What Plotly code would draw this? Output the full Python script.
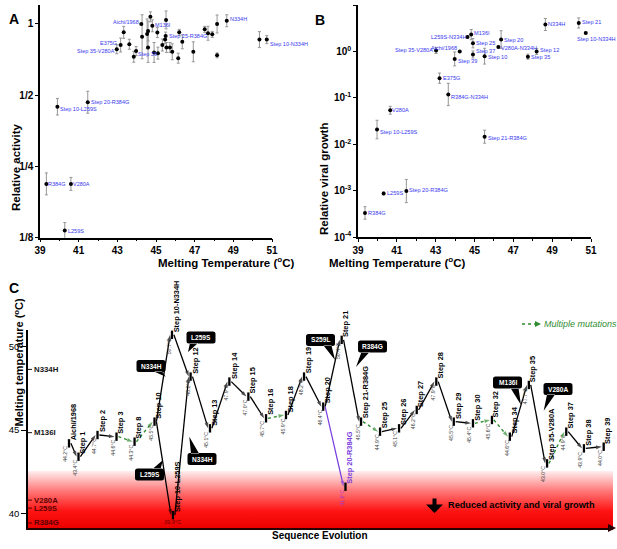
import math
import plotly.graph_objects as go

W, H = 617, 549
FONT = "Liberation Sans, Arial, Helvetica, sans-serif"
LBL_BLUE = "rgb(55,55,240)"
ERR_GRAY = "rgb(150,150,150)"
GREEN = "rgb(50,140,50)"
PURPLE = "rgb(120,60,220)"

# ---------------- Panel A: relative activity vs Tm ----------------
a_tm = [39.90, 41.47, 42.97, 43.17, 43.33, 43.62, 43.85, 43.97, 44.24, 44.28,
        44.54, 44.59, 44.59, 44.71, 44.81, 44.90, 45.07, 45.10, 45.33, 45.47,
        45.50, 45.52, 45.54, 45.72, 45.84, 46.15, 46.20, 46.36, 46.93, 47.52,
        47.69, 47.91, 48.16, 48.16, 48.66, 50.35, 50.73, 39.33, 40.60, 40.28]
a_activity = [0.447, 0.467, 0.782, 0.815, 0.922, 0.821, 0.727, 0.768, 1.000, 0.883,
              0.908, 0.934, 0.796, 1.072, 0.983, 0.758, 0.920, 0.753, 0.815, 0.859,
              0.889, 1.040, 0.796, 0.796, 0.763, 0.717, 0.922, 0.841, 0.763, 0.949,
              0.914, 0.904, 1.000, 0.737, 1.032, 0.859, 0.859, 0.211, 0.211, 0.134]
# half-width of error bars in log2 units
a_err_log2 = [0.116, 0.154, 0.063, 0.098, 0.084, 0.070, 0.077, 0.063, 0.0, 0.309,
              0.210, 0.140, 0.210, 0.070, 0.084, 0.140, 0.070, 0.084, 0.084, 0.056,
              0.056, 0.126, 0.070, 0.070, 0.112, 0.070, 0.042, 0.098, 0.140, 0.042,
              0.098, 0.042, 0.126, 0.035, 0.084, 0.112, 0.056, 0.154, 0.091, 0.112]
a_names = ["Step 10-L259S", "Step 20-R384G", "Step 35-V280A", "E375G", "", "", "", "Step 39", "Aichi/1968", "",
           "", "", "", "", "M136I", "", "", "", "", "",
           "Step 25-R384G", "", "", "", "", "", "", "", "", "",
           "", "", "", "", "N334H", "", "Step 10-N334H", "R384G", "V280A", "L259S"]
a_ytickvals = [0.125, 0.25, 0.5, 1.0]
a_yticktext = ["1/8", "1/4", "1/2", "1"]

# ---------------- Panel B: relative viral growth vs Tm ----------------
b_tm = [43.02, 44.24, 44.64, 44.83, 44.92, 44.92, 43.98, 45.52, 46.37, 46.23,
        48.20, 47.75, 48.65, 50.37, 50.73, 43.20, 43.65, 40.66, 39.98, 45.52,
        40.32, 41.49, 39.36]
b_growth = [1.05, 1.00, 2.04, 2.30, 1.50, 0.86, 0.69, 0.79, 1.80, 1.24,
            1.00, 0.77, 3.80, 4.10, 2.50, 0.265, 0.118, 0.054, 0.0207, 0.0145,
            0.00087, 0.00098, 0.00033]
# half-width of error bars in decades
b_err_dec = [0.065, 0.0, 0.02, 0.11, 0.10, 0.075, 0.15, 0.17, 0.19, 0.02,
             0.065, 0.055, 0.13, 0.11, 0.02, 0.11, 0.24, 0.085, 0.20, 0.14,
             0.03, 0.25, 0.135]
b_names = ["Step 35-V280A", "Aichi/1968", "L259S-N334H", "M136I", "Step 25", "Step 37", "Step 39", "Step 10",
           "Step 20", "V280A-N334H", "Step 12", "Step 35", "N334H", "Step 21", "Step 10-N334H", "E375G",
           "R384G-N334H", "V280A", "Step 10-L259S", "Step 21-R384G", "L259S", "Step 20-R384G", "R384G"]
b_ytickvals = [1e-4, 1e-3, 1e-2, 1e-1, 1e0, 1e1]
b_yticktext = ["10<sup>-4</sup>", "10<sup>-3</sup>", "10<sup>-2</sup>", "10<sup>-1</sup>", "10<sup>0</sup>", "10<sup>1</sup>"]

# ---------------- Panel C: evolutionary trajectory ----------------
c_names = ["Aichi/1968", "Step 1", "Step 2", "Step 3", "Step 8", "Step 10", "Step 10-N334H", "Step 10-L259S",
           "Step 12", "Step 13", "Step 14", "Step 15", "Step 16", "Step 18", "Step 19", "Step 20", "Step 21",
           "Step 20-R384G", "Step 21-R384G", "Step 25", "Step 26", "Step 27", "Step 28", "Step 29", "Step 30",
           "Step 32", "Step 34", "Step 35", "Step 35-V280A", "Step 37", "Step 38", "Step 39"]
c_seq = [0.0, 0.5, 1.5, 2.5, 3.45, 4.5, 5.42, 5.47,
         6.4, 7.42, 8.44, 9.44, 10.37, 11.42, 12.37, 13.38, 14.35,
         14.55, 15.37, 16.37, 17.37, 18.3, 19.33, 20.25, 21.26,
         22.26, 23.2, 24.2, 25.16, 26.17, 27.1, 28.14]
c_tm = [44.2, 43.4, 44.7, 44.6, 44.3, 45.5, 50.7, 39.9,
        48.2, 45.1, 47.9, 47.0, 45.7, 45.9, 48.2, 46.4, 50.4,
        41.6, 45.5, 44.9, 45.1, 46.2, 47.9, 45.5, 45.4,
        45.6, 44.6, 47.7, 43.0, 44.9, 43.9, 44.0]
c_edges = [("Aichi/1968", "Step 1", "single"), ("Step 1", "Step 2", "single"), ("Step 2", "Step 3", "single"),
           ("Step 3", "Step 8", "multi"), ("Step 8", "Step 10", "multi"),
           ("Step 10", "Step 10-N334H", "single"), ("Step 10", "Step 10-L259S", "single"),
           ("Step 10-N334H", "Step 12", "single"), ("Step 10-L259S", "Step 12", "single"),
           ("Step 12", "Step 13", "single"), ("Step 13", "Step 14", "single"), ("Step 14", "Step 15", "single"),
           ("Step 15", "Step 16", "single"), ("Step 16", "Step 18", "multi"), ("Step 18", "Step 19", "single"),
           ("Step 19", "Step 20", "single"), ("Step 20", "Step 21", "single"), ("Step 20", "Step 20-R384G", "lethal"),
           ("Step 21", "Step 21-R384G", "single"), ("Step 21-R384G", "Step 25", "multi"),
           ("Step 25", "Step 26", "single"), ("Step 26", "Step 27", "single"), ("Step 27", "Step 28", "single"),
           ("Step 28", "Step 29", "single"), ("Step 29", "Step 30", "single"), ("Step 30", "Step 32", "multi"),
           ("Step 32", "Step 34", "multi"), ("Step 34", "Step 35", "single"), ("Step 35", "Step 35-V280A", "single"),
           ("Step 35-V280A", "Step 37", "multi"), ("Step 37", "Step 38", "single"), ("Step 38", "Step 39", "single")]
c_axis_mut = ["N334H", "M136I", "V280A", "L259S", "R384G"]
c_axis_mut_tm = [48.63, 44.84, 40.8, 40.32, 39.43]
c_callouts = ["N334H", "L259S", "L259S", "N334H", "S259L", "R384G", "M136I", "V280A"]
c_yticks = [40, 45, 50]

# ---------------- layout geometry (pixels) ----------------
def px(x):
    return x / W

def py(y):
    return 1 - y / H

A_XD = [px(40), px(272)]
A_YD = [py(237.7), py(5)]
B_XD = [px(358), px(591)]
B_YD = [py(237), py(5)]
C_XD = [px(28), px(613)]
C_YD = [py(528), py(330)]
C_XR = [-2.158, 28.63]
C_YR = [39.13, 50.99]

fig = go.Figure()

# Panel A points
fig.add_trace(go.Scatter(
    x=a_tm, y=a_activity, mode="markers", xaxis="x", yaxis="y",
    marker=dict(color="black", size=4),
    error_y=dict(type="data", symmetric=False,
                 array=[v * (2 ** e - 1) for v, e in zip(a_activity, a_err_log2)],
                 arrayminus=[v * (1 - 2 ** -e) for v, e in zip(a_activity, a_err_log2)],
                 color=ERR_GRAY, thickness=1, width=1.5),
    hoverinfo="skip"))

# Panel B points
fig.add_trace(go.Scatter(
    x=b_tm, y=b_growth, mode="markers", xaxis="x2", yaxis="y2",
    marker=dict(color="black", size=4),
    error_y=dict(type="data", symmetric=False,
                 array=[v * (10 ** e - 1) for v, e in zip(b_growth, b_err_dec)],
                 arrayminus=[v * (1 - 10 ** -e) for v, e in zip(b_growth, b_err_dec)],
                 color=ERR_GRAY, thickness=1, width=1.5),
    hoverinfo="skip"))

# Panel C red gradient zone
fig.add_trace(go.Scatter(
    x=[C_XR[0], C_XR[1], C_XR[1], C_XR[0]], y=[C_YR[0], C_YR[0], 42.54, 42.54],
    mode="none", fill="toself", xaxis="x3", yaxis="y3",
    fillgradient=dict(type="vertical", start=C_YR[0], stop=42.54,
                      colorscale=[[0, "rgb(235,0,0)"], [0.3, "rgb(255,20,20)"],
                                  [0.65, "rgb(255,120,120)"], [1, "rgb(255,238,238)"]]),
    hoverinfo="skip"))

# Panel C arrows
idx = {n: i for i, n in enumerate(c_names)}
GAP = 0.1
styles = {"single": ("black", "solid", 1.3), "multi": (GREEN, "dot", 1.4), "lethal": (PURPLE, "solid", 1.2)}
for kind, (col, dash, wd) in styles.items():
    xs, ys, syms, sizes = [], [], [], []
    for s, d, k in c_edges:
        if k != kind:
            continue
        i, j = idx[s], idx[d]
        xs += [c_seq[i] + GAP, c_seq[j] - GAP, None]
        ys += [c_tm[i], c_tm[j], None]
        syms += ["circle", "arrow", "circle"]
        sizes += [0, 6, 0]
    fig.add_trace(go.Scatter(
        x=xs, y=ys, mode="lines+markers", xaxis="x3", yaxis="y3",
        line=dict(color=col, width=wd, dash=dash),
        marker=dict(symbol=syms, size=sizes, color=col, angleref="previous", line=dict(width=0)),
        hoverinfo="skip"))

# Panel C node bars
fig.add_trace(go.Scatter(
    x=c_seq, y=c_tm, mode="markers", xaxis="x3", yaxis="y3",
    marker=dict(symbol="line-ns", size=6, line=dict(width=2.3, color="black")),
    hoverinfo="skip"))

ann = []
shapes = []

# Point labels A
a_lbl_layout = {
    "Step 10-L259S": ("r", 2, -2.5), "Step 20-R384G": ("r", 2, 0), "Step 35-V280A": ("l", -1, -2),
    "E375G": ("l", -3, 2.5), "Step 39": ("r", 1, -3), "Aichi/1968": ("l", -1.5, 1.5),
    "M136I": ("r", 1.5, 0.5), "Step 25-R384G": ("r", 2, 0), "N334H": ("r", 2, 1.5),
    "Step 10-N334H": ("r", 2, -4), "R384G": ("r", 1, 0), "V280A": ("r", 1, 0), "L259S": ("r", 2, 0),
}
for t, v, n in zip(a_tm, a_activity, a_names):
    if not n:
        continue
    side, dx, dy = a_lbl_layout[n]
    ann.append(dict(x=t, y=math.log10(v), xref="x", yref="y", text=n, showarrow=False,
                    xanchor="left" if side == "r" else "right", yanchor="middle",
                    xshift=dx, yshift=dy, font=dict(size=5.5, color=LBL_BLUE), borderpad=0))

b_lbl_layout = {
    "Step 35-V280A": ("l", -2, 0), "Aichi/1968": ("l", -2, 3), "L259S-N334H": ("l", -1, 0),
    "M136I": ("r", 2, 2), "Step 25": ("r", 2, 0.5), "Step 37": ("r", 2, 3.5), "Step 39": ("r", 2, -2),
    "Step 10": ("r", 2, -1), "Step 20": ("r", 2, 0), "V280A-N334H": ("r", 2, -1), "Step 12": ("r", 2, 1.5),
    "Step 35": ("r", 2, 0), "N334H": ("r", 2, 0), "Step 21": ("r", 2, 1), "Step 10-N334H": ("r", -10, -6),
    "E375G": ("r", 2, 0), "R384G-N334H": ("r", 2, -2.5), "V280A": ("r", 1, 0), "Step 10-L259S": ("r", 2, -2),
    "Step 21-R384G": ("r", 2, -1.5), "L259S": ("r", 2, 0), "Step 20-R384G": ("r", 2, 1), "R384G": ("r", 2, 0),
}
for t, v, n in zip(b_tm, b_growth, b_names):
    side, dx, dy = b_lbl_layout[n]
    ann.append(dict(x=t, y=math.log10(v), xref="x2", yref="y2", text=n, showarrow=False,
                    xanchor="left" if side == "r" else "right", yanchor="middle",
                    xshift=dx, yshift=dy, font=dict(size=5.6, color=LBL_BLUE), borderpad=0))

# Panel C node labels
for n, x, t in zip(c_names, c_seq, c_tm):
    name_col = PURPLE if n == "Step 20-R384G" else "black"
    ann.append(dict(x=x, y=t, xref="x3", yref="y3", text="<b>%s</b>" % n, textangle=-90,
                    showarrow=False, xanchor="center", yanchor="bottom", xshift=4.5, yshift=2,
                    font=dict(size=7.4, color=name_col), borderpad=0))
    temp = "%.1f°C" % t
    if n == "Step 10-L259S":
        ann.append(dict(x=x, y=t, xref="x3", yref="y3", text=temp, showarrow=False,
                        xanchor="center", yanchor="top", yshift=-3,
                        font=dict(size=5.5, color="rgb(110,0,0)"), borderpad=0))
    else:
        tcol = "rgb(170,50,200)" if n == "Step 20-R384G" else "rgb(60,60,60)"
        ann.append(dict(x=x, y=t, xref="x3", yref="y3", text=temp, textangle=-90, showarrow=False,
                        xanchor="center", yanchor="top", xshift=-3.5, yshift=-2,
                        font=dict(size=5.2, color=tcol), borderpad=0))

# Callouts (speech bubbles) : centre px, tip offset (px, y up), base range on edge
callout_geom = [((151, 366), (14.7, -10.7), (3, 11)),
                ((149.5, 474.5), (13.5, 14.5), (3, 11)),
                ((201, 337.5), (-13, -14.5), (-11, -3)),
                ((202, 459), (-12.7, 22.3), (-11, -3)),
                ((320.5, 340), (14.5, -20), (3, 11)),
                ((372.5, 346.5), (-16.5, -20.5), (-11, -3)),
                ((507.5, 382.5), (13.5, -22.5), (3, 11)),
                ((558, 389), (-14.3, -21.7), (-11, -3))]
hw, hh, r = 14.5, 6, 2.5
for txt, ((cxp, cyp), (tx, ty), (b0, b1)) in zip(c_callouts, callout_geom):
    rect = ("M %g,%g L %g,%g Q %g,%g %g,%g L %g,%g Q %g,%g %g,%g L %g,%g Q %g,%g %g,%g L %g,%g Q %g,%g %g,%g Z"
            % (-hw + r, hh, hw - r, hh, hw, hh, hw, hh - r, hw, -hh + r, hw, -hh, hw - r, -hh,
               -hw + r, -hh, -hw, -hh, -hw, -hh + r, -hw, hh - r, -hw, hh, -hw + r, hh))
    edge = -hh + 0.5 if ty < 0 else hh - 0.5
    tail = " M %g,%g L %g,%g L %g,%g Z" % (b0, edge, tx, ty, b1, edge)
    shapes.append(dict(type="path", xref="paper", yref="paper", xsizemode="pixel", ysizemode="pixel",
                       xanchor=px(cxp), yanchor=py(cyp), path=rect + tail,
                       fillcolor="black", line=dict(width=0), layer="above"))
    ann.append(dict(x=px(cxp), y=py(cyp), xref="paper", yref="paper", text="<b>%s</b>" % txt,
                    showarrow=False, font=dict(size=6.6, color="white"), xanchor="center", yanchor="middle"))

# Panel C mutant labels on y axis
for m, t in zip(c_axis_mut, c_axis_mut_tm):
    col = "rgb(20,20,20)" if t > 43 else "rgb(90,0,0)"
    shapes.append(dict(type="line", xref="paper", yref="y3", x0=px(28), x1=px(32), y0=t, y1=t,
                       line=dict(color=col, width=1)))
    ann.append(dict(x=px(32.5), y=t, xref="paper", yref="y3", text="<b>%s</b>" % m, showarrow=False,
                    xanchor="left", yanchor="middle", font=dict(size=7.8, color=col), borderpad=0))

# Multiple mutations legend
shapes.append(dict(type="line", xref="paper", yref="paper", x0=px(522), x1=px(536), y0=py(324), y1=py(324),
                   line=dict(color=GREEN, width=1.3, dash="dot")))
ann.append(dict(x=px(541), y=py(324), xref="paper", yref="paper", ax=-6, ay=0, text="", showarrow=True,
                arrowhead=2, arrowsize=1, arrowwidth=1.2, arrowcolor=GREEN))
ann.append(dict(x=px(542), y=py(324), xref="paper", yref="paper", text="<i>Multiple mutations</i>",
                showarrow=False, xanchor="left", yanchor="middle", font=dict(size=9, color=GREEN)))

# Reduced activity note
ann.append(dict(x=px(434.5), y=py(513), xref="paper", yref="paper", ax=0, ay=-16, text="", showarrow=True,
                arrowhead=1, arrowsize=0.7, arrowwidth=4, arrowcolor="black"))
ann.append(dict(x=px(446), y=py(505), xref="paper", yref="paper",
                text="<b>Reduced activity and viral growth</b>", showarrow=False,
                xanchor="left", yanchor="middle", font=dict(size=9.2, color="black")))

# x axis arrow for panel C
ann.append(dict(x=px(616.5), y=C_YD[0], xref="paper", yref="paper", ax=-8, ay=0, text="", showarrow=True,
                arrowhead=2, arrowsize=1, arrowwidth=1.6, arrowcolor="rgb(40,0,0)"))

# Axis titles
ttl = dict(size=11.5, color="black")
ann += [
    dict(x=px(8), y=py(121), xref="paper", yref="paper", text="<b>Relative activity</b>", textangle=-90,
         showarrow=False, font=ttl),
    dict(x=px(156), y=py(261.5), xref="paper", yref="paper", text="<b>Melting Temperature (<sup>o</sup>C)</b>",
         showarrow=False, font=ttl),
    dict(x=px(324), y=py(121), xref="paper", yref="paper", text="<b>Relative viral growth</b>", textangle=-90,
         showarrow=False, font=ttl),
    dict(x=px(467.5), y=py(261.5), xref="paper", yref="paper", text="<b>Melting Temperature (<sup>o</sup>C)</b>",
         showarrow=False, font=ttl),
    dict(x=px(9), y=py(429), xref="paper", yref="paper", text="<b>Melting temperature (<sup>o</sup>C)</b>",
         textangle=-90, showarrow=False, font=dict(size=11, color="black")),
    dict(x=px(320), y=py(543), xref="paper", yref="paper", text="<b>Sequence Evolution</b>",
         showarrow=False, font=dict(size=10, color="black")),
    dict(x=px(7), y=py(9), xref="paper", yref="paper", text="<b>A</b>", showarrow=False,
         font=dict(size=14, color="black")),
    dict(x=px(320), y=py(10), xref="paper", yref="paper", text="<b>B</b>", showarrow=False,
         font=dict(size=14, color="black")),
    dict(x=px(7), y=py(288), xref="paper", yref="paper", text="<b>C</b>", showarrow=False,
         font=dict(size=14, color="black")),
]

tickf = dict(size=10, color="black", weight="bold")
xcommon = dict(range=[39, 51], tick0=39, dtick=2, ticks="outside", ticklen=3, tickwidth=1.2,
               tickcolor="black", showline=True, linecolor="black", linewidth=1.5, showgrid=False,
               zeroline=False, tickfont=tickf, automargin=False,
               minor=dict(dtick=1, ticks="outside", ticklen=2, tickcolor="black", showgrid=False))

fig.update_layout(
    width=W, height=H, margin=dict(l=0, r=0, t=0, b=0, autoexpand=False),
    paper_bgcolor="white", plot_bgcolor="white", showlegend=False,
    font=dict(family=FONT, color="black"),
    xaxis=dict(domain=A_XD, anchor="y", **xcommon),
    yaxis=dict(domain=A_YD, anchor="x", type="log", automargin=False,
               range=[math.log10(0.125), math.log10(1.203)],
               tickvals=a_ytickvals, ticktext=a_yticktext, ticks="outside", ticklen=3, tickwidth=1.2,
               tickcolor="black", showline=True, linecolor="black", linewidth=1.5, showgrid=False,
               zeroline=False, tickfont=tickf),
    xaxis2=dict(domain=B_XD, anchor="y2", **xcommon),
    yaxis2=dict(domain=B_YD, anchor="x2", type="log", range=[-4, 1], automargin=False,
                tickvals=b_ytickvals, ticktext=b_yticktext, ticks="outside", ticklen=3, tickwidth=1.2,
                tickcolor="black", showline=True, linecolor="black", linewidth=1.5, showgrid=False,
                zeroline=False, tickfont=tickf),
    xaxis3=dict(domain=C_XD, anchor="y3", range=C_XR, showticklabels=False, ticks="", automargin=False,
                showline=True, linecolor="rgb(40,0,0)", linewidth=2, showgrid=False, zeroline=False),
    yaxis3=dict(domain=C_YD, anchor="x3", range=C_YR, tickvals=c_yticks, ticks="outside", ticklen=5,
                tickwidth=1.2, tickcolor="black", showline=True, linecolor="black", linewidth=1.5,
                automargin=False, showgrid=False, zeroline=False, tickfont=dict(size=9.5, color="black")),
    annotations=ann, shapes=shapes,
)

fig.write_html("out.html", config={"displayModeBar": False},
               post_script="document.body.style.margin='0px';document.body.style.padding='0px';")
